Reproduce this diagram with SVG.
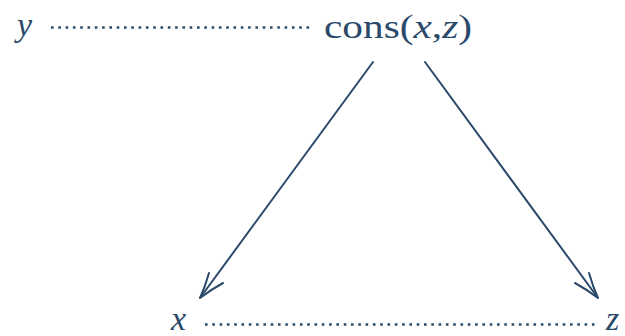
<svg xmlns="http://www.w3.org/2000/svg" width="625" height="336" viewBox="0 0 625 336">
<style>
.t{font-family:"Liberation Serif","DejaVu Serif",serif;fill:#2b4a6b;font-size:34px}
.i{font-style:italic}
.dot{stroke:#2b4a6b;stroke-width:2.6;stroke-dasharray:2.6 4.7;fill:none}
.arr{stroke:#2b4a6b;stroke-width:2;fill:none;stroke-linecap:round}
</style>
<rect width="625" height="336" fill="#fff"/>
<g id="node-y"><text class="t i" x="17" y="36" font-size="36">y</text></g>
<g id="node-cons"><text class="t" x="324" y="38" textLength="148" lengthAdjust="spacingAndGlyphs">cons(<tspan class="i">x</tspan>,<tspan class="i">z</tspan>)</text></g>
<g id="node-x"><text class="t i" x="171" y="330">x</text></g>
<g id="node-z"><text class="t i" x="606" y="330">z</text></g>
<g id="connectors">
<line class="dot" x1="51" y1="27.5" x2="312" y2="27.5"/>
<line class="dot" x1="205" y1="324.5" x2="597" y2="324.5"/>
<line class="arr" x1="373" y1="62" x2="200" y2="298"/>
<path class="arr" d="M209,273 Q205,287 200,298 Q212,289 223,283"/>
<line class="arr" x1="425" y1="62" x2="598" y2="298"/>
<path class="arr" d="M589,273 Q593,287 598,298 Q586,289 575,283"/>
</g>
</svg>
